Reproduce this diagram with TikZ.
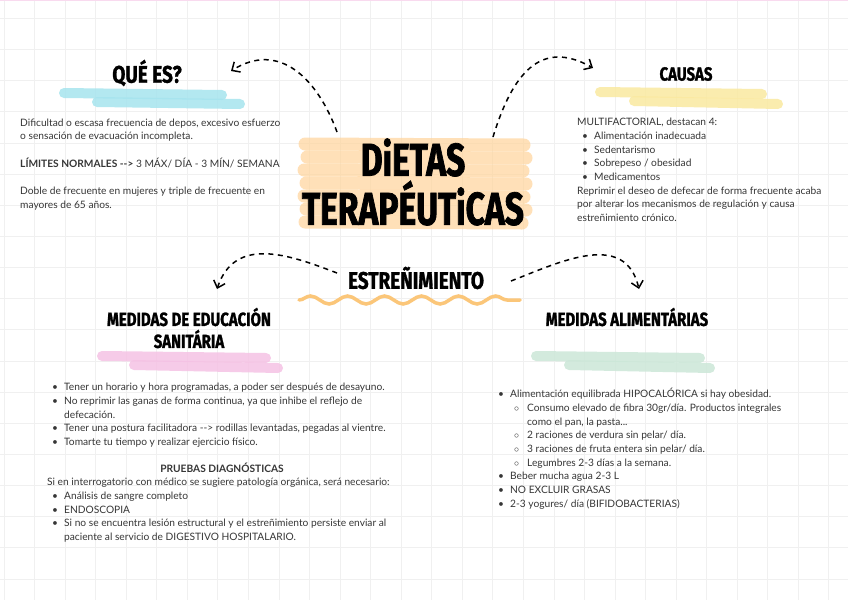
\documentclass[tikz,border=0pt]{standalone}
\usepackage{fontspec}
\setmainfont{Lato}
\newfontfamily\handfont[FakeStretch=0.79, FakeBold=1.2]{Fira Sans}
\newfontfamily\bighandfont[FakeStretch=0.73, FakeBold=1.6]{Fira Sans}
\usetikzlibrary{arrows.meta, decorations.pathmorphing}

\definecolor{gridgray}{HTML}{F0F0F0}
\definecolor{inktext}{HTML}{363636}
\definecolor{brushcyan}{HTML}{A6E4EE}
\definecolor{brushyellow}{HTML}{FAE9A0}
\definecolor{brushpink}{HTML}{F5C2E4}
\definecolor{brushgreen}{HTML}{CCE7D8}
\definecolor{brushorange}{HTML}{FFD49A}
\definecolor{waveorange}{HTML}{FBC679}

\newcommand{\itemdot}{\hspace*{5pt}\makebox[12pt][l]{\textbullet}}
\newcommand{\itemgap}{\hspace*{17pt}}
\newcommand{\subdot}{\hspace*{21pt}\makebox[13pt][l]{$\circ$}}
\newcommand{\subgap}{\hspace*{34pt}}

\begin{document}
\begin{tikzpicture}[x=1pt, y=-1pt,
    gridline/.style={gridgray, line width=0.8pt},
    brush/.style={line width=10pt, line cap=round, opacity=0.85},
    streak/.style={brushorange, line width=13pt, line cap=round, opacity=0.7},
    bigtitle/.style={font=\handfont\bfseries\fontsize{24}{26}\selectfont, inner sep=0pt},
    subtitle/.style={font=\handfont\bfseries\fontsize{19}{22}\selectfont, inner sep=0pt, align=center},
    body/.style={font=\fontsize{10.2}{13.7}\selectfont, text=inktext, align=left, inner sep=0pt, anchor=north west},
    link/.style={black, line width=1.5pt, dash pattern=on 5pt off 4.5pt, -{Straight Barb[length=6.5pt, width=12pt]}}]
    \useasboundingbox (0,0) rectangle (848,600);
    \fill[white] (0,0) rectangle (848,600);
    % grid
    \foreach \k in {0,...,27} {
        \draw[gridline] (4+\k*30.55,0) -- (4+\k*30.55,600);
    }
    \foreach \k in {0,...,18} {
        \draw[gridline] (0,18.3+\k*31.15) -- (848,18.3+\k*31.15);
    }
    \draw[brushpink!60, line width=1pt] (0,0.5) -- (848,0.5);

    % brush strokes
    \draw[brush, brushcyan] (64,93) -- (222,95);
    \draw[brush, brushcyan] (97,102) -- (240,104);
    \draw[brush, brushyellow] (600,92) -- (762,94);
    \draw[brush, brushyellow] (634,101) -- (778,104);
    \draw[brush, brushpink] (102,356) -- (266,358);
    \draw[brush, brushpink] (134,365) -- (278,368);
    \draw[brush, brushgreen] (536,356) -- (700,358);
    \draw[brush, brushgreen] (569,365) -- (710,368);
    \foreach \y/\xa/\xb in {144/305/524, 157/307/526, 170/304/523, 183/306/526, 196/304/524, 209/306/526, 222/305/522} {
        \draw[streak] (\xa,\y) -- (\xb,\y+1);
    }
    \draw[waveorange, line width=3.5pt, line cap=round,
        decorate, decoration={snake, segment length=37pt, amplitude=4pt}] (299,300) -- (520,300);

    % titles
    \node[font=\bighandfont\bfseries\fontsize{46}{49}\selectfont, align=center, inner sep=0pt] (main) at (413,182) {DiETAS\\TERAPÉUTiCAS};
    \node[bigtitle] (quees) at (147,73) {QUÉ ES?};
    \node[subtitle] (causas) at (686,74) {CAUSAS};
    \node[bigtitle] (estr) at (416,278) {ESTREÑIMIENTO};
    \node[subtitle] (edu) at (189,328) {MEDIDAS DE EDUCACIÓN\\SANITÁRIA};
    \node[subtitle] (alim) at (627,317) {MEDIDAS ALIMENTÁRIAS};

    % arrows
    \coordinate (a1) at (337,132);
    \coordinate (b1) at (231,71);
    \coordinate (a2) at (493,137);
    \coordinate (b2) at (593,68);
    \coordinate (a3) at (337,273);
    \coordinate (b3) at (217,289);
    \coordinate (a4) at (511,281);
    \coordinate (b4) at (639,289);
    \draw[link] (a1) .. controls (318,80) and (280,40) .. (b1);
    \draw[link] (a2) .. controls (512,75) and (540,38) .. (b2);
    \draw[link] (a3) .. controls (290,255) and (235,235) .. (b3);
    \draw[link] (a4) .. controls (560,262) and (625,230) .. (b4);

    % texts
    \node[body] (qtext) at (20,116.4) {\strut Dificultad o escasa frecuencia de depos, excesivo esfuerzo\\
        o sensación de evacuación incompleta.\\[13.7pt]
        \textbf{LÍMITES NORMALES -{}->} 3 MÁX/ DÍA - 3 MÍN/ SEMANA\\[13.7pt]
        Doble de frecuente en mujeres y triple de frecuente en\\
        mayores de 65 años.};
    \node[body] (ctext) at (577,116) {\strut MULTIFACTORIAL, destacan 4:\\
        \itemdot Alimentación inadecuada\\
        \itemdot Sedentarismo\\
        \itemdot Sobrepeso / obesidad\\
        \itemdot Medicamentos\\
        Reprimir el deseo de defecar de forma frecuente acaba\\
        por alterar los mecanismos de regulación y causa\\
        estreñimiento crónico.};
    \node[body] (etext) at (47,381) {\strut\itemdot Tener un horario y hora programadas, a poder ser después de desayuno.\\
        \itemdot No reprimir las ganas de forma continua, ya que inhibe el reflejo de\\
        \itemgap defecación.\\
        \itemdot Tener una postura facilitadora -{}-> rodillas levantadas, pegadas al vientre.\\
        \itemdot Tomarte tu tiempo y realizar ejercicio físico.};
    \node[body, anchor=base, font=\bfseries\fontsize{10.2}{13.7}\selectfont] (pruebas) at (222,472) {PRUEBAS DIAGNÓSTICAS};
    \node[body] (ptext) at (47,476) {\strut Si en interrogatorio con médico se sugiere patología orgánica, será necesario:\\
        \itemdot Análisis de sangre completo\\
        \itemdot ENDOSCOPIA\\
        \itemdot Si no se encuentra lesión estructural y el estreñimiento persiste enviar al\\
        \itemgap paciente al servicio de DIGESTIVO HOSPITALARIO.};
    \node[body] (atext) at (493,388) {\strut\itemdot Alimentación equilibrada HIPOCALÓRICA si hay obesidad.\\
        \subdot Consumo elevado de fibra 30gr/día. Productos integrales\\
        \subgap como el pan, la pasta...\\
        \subdot 2 raciones de verdura sin pelar/ día.\\
        \subdot 3 raciones de fruta entera sin pelar/ día.\\
        \subdot Legumbres 2-3 días a la semana.\\
        \itemdot Beber mucha agua 2-3 L\\
        \itemdot NO EXCLUIR GRASAS\\
        \itemdot 2-3 yogures/ día (BIFIDOBACTERIAS)};
\end{tikzpicture}
\end{document}
